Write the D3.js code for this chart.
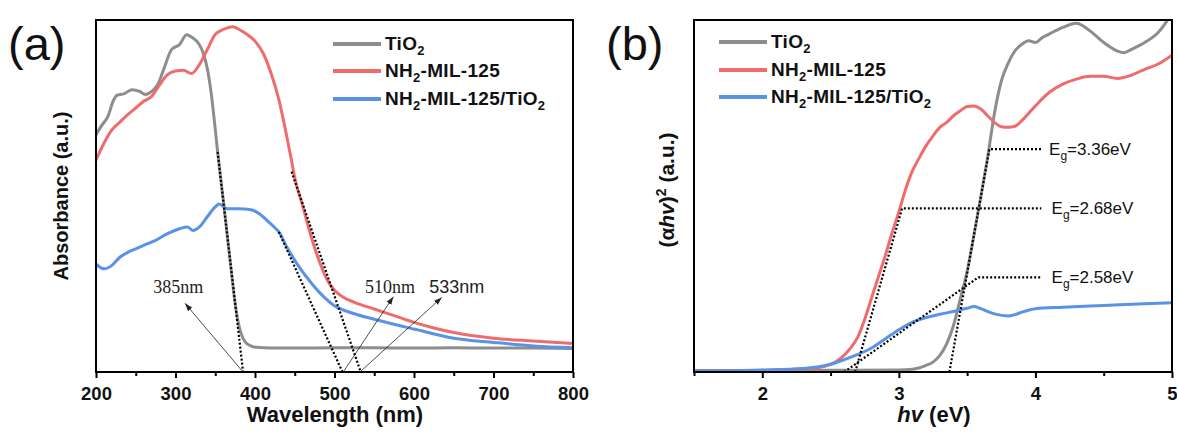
<!DOCTYPE html>
<html><head><meta charset="utf-8">
<script src="https://cdn.jsdelivr.net/npm/d3@7"></script>
<style>body{margin:0;background:#fff} svg{display:block}</style>
</head><body><svg id="c" width="1177" height="433"></svg>
<script>
// ---------- DATA ----------
// Panel (a): UV-vis absorbance (wavelength nm, absorbance a.u.)
const absTiO2 = [[200,0.674],[207,0.70],[215,0.726],[222,0.772],[227,0.787],[235,0.79],[245,0.802],[255,0.797],[262,0.788],[270,0.797],[278,0.818],[285,0.859],[295,0.916],[305,0.93],[314,0.958],[320,0.952],[330,0.93],[335,0.905],[340,0.862],[345,0.79],[350,0.69],[353,0.625],[356,0.566],[360,0.49],[365,0.39],[370,0.29],[375,0.195],[380,0.13],[384,0.1],[388,0.085],[394,0.075],[402,0.07],[420,0.068],[450,0.068],[500,0.069],[550,0.069],[600,0.068],[650,0.069],[700,0.068],[750,0.068],[800,0.067]];
const absMIL = [[200,0.602],[210,0.65],[220,0.688],[230,0.71],[240,0.731],[250,0.75],[260,0.769],[270,0.783],[280,0.816],[290,0.845],[300,0.855],[310,0.857],[320,0.848],[330,0.873],[340,0.916],[350,0.959],[360,0.973],[372,0.981],[380,0.973],[390,0.959],[400,0.94],[410,0.907],[420,0.85],[430,0.774],[440,0.669],[446,0.6],[450,0.552],[460,0.472],[470,0.39],[480,0.32],[490,0.265],[500,0.232],[510,0.214],[525,0.198],[550,0.179],[575,0.16],[600,0.141],[625,0.125],[650,0.112],[700,0.096],[750,0.088],[800,0.081]];
const absComposite = [[200,0.307],[210,0.293],[220,0.303],[230,0.326],[240,0.34],[250,0.35],[260,0.36],[275,0.374],[290,0.393],[305,0.407],[315,0.412],[322,0.402],[330,0.412],[340,0.441],[350,0.469],[355,0.477],[365,0.464],[380,0.464],[395,0.461],[405,0.45],[415,0.431],[425,0.41],[430,0.398],[440,0.355],[455,0.3],[470,0.255],[485,0.217],[500,0.188],[520,0.169],[550,0.15],[600,0.122],[650,0.096],[700,0.084],[750,0.074],[800,0.069]];
const aTicks = [200,300,400,500,600,700,800];
const aMinor = [250,350,450,550,650,750];
// tangent lines (x1,y1) -> intercept
const aTangents = [[353,0.625,385,0],[446,0.569,533,0],[430,0.398,510,0]];
// edge annotations: label, label pos, arrow tail (intercept) and head
const aEdgeLabels = ["385nm","510nm","533nm"];
const aEdgeLabelPos = [[303.5,0.224],[569.8,0.224],[653.7,0.224]];
const aArrowFrom = [[385,0],[511,0],[532,0]];
const aArrowTo = [[312,0.195],[574,0.214],[635,0.212]];

// Panel (b): Tauc plot (hv eV, (αhv)^2 a.u.)
const taucTiO2 = [[1.5,0.004],[2.0,0.004],[2.5,0.005],[3.0,0.006],[3.1,0.008],[3.2,0.019],[3.25,0.028],[3.3,0.047],[3.35,0.08],[3.4,0.132],[3.45,0.208],[3.5,0.286],[3.55,0.39],[3.6,0.497],[3.65,0.61],[3.7,0.735],[3.75,0.826],[3.8,0.877],[3.85,0.912],[3.9,0.931],[3.95,0.941],[4.0,0.936],[4.05,0.95],[4.1,0.96],[4.2,0.979],[4.3,0.991],[4.35,0.983],[4.4,0.969],[4.5,0.936],[4.6,0.912],[4.65,0.907],[4.7,0.916],[4.8,0.936],[4.9,0.965],[4.95,0.99],[5.0,1.02]];
const taucMIL = [[1.5,0.003],[2.0,0.005],[2.2,0.007],[2.4,0.012],[2.5,0.022],[2.55,0.032],[2.6,0.048],[2.65,0.07],[2.7,0.1],[2.75,0.15],[2.8,0.21],[2.85,0.27],[2.9,0.33],[2.95,0.395],[3.0,0.455],[3.05,0.52],[3.1,0.572],[3.15,0.609],[3.2,0.643],[3.25,0.671],[3.3,0.695],[3.35,0.709],[3.4,0.728],[3.45,0.742],[3.5,0.754],[3.55,0.756],[3.6,0.747],[3.65,0.728],[3.7,0.709],[3.75,0.697],[3.8,0.695],[3.85,0.698],[3.9,0.714],[4.0,0.756],[4.1,0.794],[4.2,0.818],[4.3,0.832],[4.4,0.84],[4.5,0.84],[4.6,0.834],[4.7,0.843],[4.8,0.86],[4.9,0.875],[5.0,0.9]];
const taucComposite = [[1.5,0.003],[2.0,0.006],[2.3,0.01],[2.4,0.014],[2.5,0.022],[2.6,0.035],[2.7,0.05],[2.8,0.068],[2.9,0.094],[3.0,0.12],[3.1,0.142],[3.2,0.155],[3.3,0.164],[3.4,0.172],[3.5,0.181],[3.55,0.186],[3.6,0.18],[3.7,0.165],[3.8,0.159],[3.85,0.163],[3.9,0.17],[4.0,0.18],[4.2,0.184],[4.5,0.189],[4.8,0.194],[5.0,0.197]];
const bTicks = [2,3,4,5];
const bMinor = [1.5,2.5,3.5,4.5];
const bTangents = [[3.37,0,3.663,0.633],[2.68,0,3.024,0.465],[2.6,0,3.582,0.269]];
const bGuideEnd = 4.043;
const bGapLabels = ["3.36eV","2.68eV","2.58eV"];
const bGapLabelX = [4.1,4.118,4.118];

const seriesNames = ["TiO_2","NH_2-MIL-125","NH_2-MIL-125/TiO_2"];
const seriesColors = ["#8d8d8d","#f06b6b","#5a93e6"];

// ---------- DRAW ----------
const svg = d3.select("#c");
const defs = svg.append("defs");
defs.append("marker").attr("id","arr").attr("viewBox","0 0 10 10")
  .attr("refX",10).attr("refY",5).attr("markerWidth",8).attr("markerHeight",8)
  .attr("markerUnits","userSpaceOnUse").attr("orient","auto")
  .append("path").attr("d","M0,1.5 L10,5 L0,8.5 z").attr("fill","#222");

const SANS = "'Liberation Sans', Arial, sans-serif";
const SERIF = "'Liberation Serif', 'Times New Roman', serif";

function rich(textSel, str, subSize, shift){
  const parts = str.split(/(_\w)/).filter(p=>p);
  let pending = 0;
  parts.forEach(p=>{
    if(p[0]==="_"){
      textSel.append("tspan").attr("font-size",subSize).attr("dy",shift+pending).text(p[1]);
      pending = -shift;
    } else {
      const ts = textSel.append("tspan").text(p);
      if(pending) ts.attr("dy",pending);
      pending = 0;
    }
  });
}

function panel(cfg){
  const {x,y,series,ticks,minor,id} = cfg;
  const g = svg.append("g");
  const [x0,x1] = x.range(), [y0,y1] = y.range();
  defs.append("clipPath").attr("id",id).append("rect")
    .attr("x",x0).attr("y",y1).attr("width",x1-x0).attr("height",y0-y1);
  const line = d3.line().x(d=>x(d[0])).y(d=>y(d[1])).curve(d3.curveMonotoneX);
  const cg = g.append("g").attr("clip-path",`url(#${id})`);
  series.forEach((s,i)=>{
    cg.append("path").datum(s).attr("d",line).attr("fill","none")
      .attr("stroke",seriesColors[i]).attr("stroke-width",3).attr("stroke-linejoin","round");
  });
  // axes
  const ax = g.append("g").attr("transform",`translate(0,${y0})`)
    .call(d3.axisBottom(x).tickValues(ticks).tickSize(6).tickPadding(9).tickFormat(d3.format("d")));
  ax.select(".domain").remove();
  ax.selectAll("line").attr("stroke","#000").attr("stroke-width",2);
  ax.selectAll("text").attr("font-family",SANS).attr("font-weight","bold").attr("font-size",18.5).attr("fill","#111");
  const mx = g.append("g").attr("transform",`translate(0,${y0})`)
    .call(d3.axisBottom(x).tickValues(minor).tickSize(4).tickFormat(""));
  mx.select(".domain").remove();
  mx.selectAll("line").attr("stroke","#000").attr("stroke-width",2);
  // legend
  const lg = g.append("g");
  seriesNames.forEach((n,i)=>{
    const ly = cfg.legY[i];
    lg.append("line").attr("x1",cfg.legX).attr("x2",cfg.legX+48).attr("y1",ly).attr("y2",ly)
      .attr("stroke",seriesColors[i]).attr("stroke-width",4);
    const t = lg.append("text").attr("x",cfg.legX+52).attr("y",ly+6)
      .attr("font-family",SANS).attr("font-weight","bold").attr("font-size",19).attr("letter-spacing",0.3).attr("fill","#111");
    rich(t,n,13,5);
  });
  g.frame = ()=> g.append("rect").attr("x",x0).attr("y",y1).attr("width",x1-x0).attr("height",y0-y1)
    .attr("fill","none").attr("stroke","#000").attr("stroke-width",2);
  return g;
}

// Panel A
const xA = d3.scaleLinear().domain([200,800]).range([96,573]);
const yA = d3.scaleLinear().domain([0,1]).range([372,20]);
const gA = panel({x:xA,y:yA,series:[absTiO2,absMIL,absComposite],ticks:aTicks,minor:aMinor,id:"clipA",legX:333,legY:[44,71,99]});
aTangents.forEach(t=>{
  gA.append("line").attr("x1",xA(t[0])).attr("y1",yA(t[1])).attr("x2",xA(t[2])).attr("y2",yA(t[3]))
    .attr("stroke","#000").attr("stroke-width",2.2).attr("stroke-dasharray","2,2");
});
aArrowFrom.forEach((f,i)=>{
  gA.append("line").attr("x1",xA(f[0])).attr("y1",yA(f[1])).attr("x2",xA(aArrowTo[i][0])).attr("y2",yA(aArrowTo[i][1]))
    .attr("stroke","#222").attr("stroke-width",0.8).attr("marker-end","url(#arr)");
});
aEdgeLabels.forEach((l,i)=>{
  gA.append("text").attr("x",xA(aEdgeLabelPos[i][0])).attr("y",yA(aEdgeLabelPos[i][1]))
    .attr("text-anchor","middle").attr("font-family", i===2?SANS:SERIF).attr("font-size",18).attr("fill","#222").text(l);
});
gA.frame();
gA.append("text").attr("x",335).attr("y",422).attr("text-anchor","middle")
  .attr("font-family",SANS).attr("font-weight","bold").attr("font-size",22).attr("fill","#111").text("Wavelength (nm)");
gA.append("text").attr("transform","translate(61,196) rotate(-90)").attr("dy","0.35em").attr("text-anchor","middle")
  .attr("font-family",SANS).attr("font-weight","bold").attr("font-size",20).attr("fill","#111").text("Absorbance (a.u.)");
svg.append("text").attr("x",8).attr("y",60).attr("font-family",SANS).attr("font-size",47).attr("fill","#111").text("(a)");

// Panel B
const xB = d3.scaleLinear().domain([1.5,5]).range([694,1172]);
const yB = d3.scaleLinear().domain([0,1]).range([372,20]);
const gB = panel({x:xB,y:yB,series:[taucTiO2,taucMIL,taucComposite],ticks:bTicks,minor:bMinor,id:"clipB",legX:719,legY:[42,70,97]});
bTangents.forEach((t,i)=>{
  gB.append("path").attr("d",`M${xB(t[0])},${yB(t[1])}L${xB(t[2])},${yB(t[3])}L${xB(bGuideEnd)},${yB(t[3])}`)
    .attr("fill","none").attr("stroke","#000").attr("stroke-width",2.2).attr("stroke-dasharray","2,2");
  const tx = gB.append("text").attr("x",xB(bGapLabelX[i])).attr("y",yB(t[3])+6)
    .attr("font-family",SANS).attr("font-size",17).attr("fill","#111");
  rich(tx,"E_g="+bGapLabels[i],12,5);
});
gB.frame();
const xt = gB.append("text").attr("x",934).attr("y",422).attr("text-anchor","middle")
  .attr("font-family",SANS).attr("font-weight","bold").attr("font-size",22).attr("fill","#111");
xt.append("tspan").attr("font-style","italic").text("hv");
xt.append("tspan").text(" (eV)");
const yt = gB.append("text").attr("transform","translate(667,190) rotate(-90)").attr("dy","0.35em").attr("text-anchor","middle")
  .attr("font-family",SANS).attr("font-weight","bold").attr("font-size",21).attr("fill","#111");
yt.append("tspan").text("(\u03B1");
yt.append("tspan").attr("font-style","italic").text("hv");
yt.append("tspan").text(")");
yt.append("tspan").attr("font-size",14).attr("dy",-8).text("2");
yt.append("tspan").attr("dy",8).text(" (a.u.)");
svg.append("text").attr("x",606).attr("y",60).attr("font-family",SANS).attr("font-size",47).attr("fill","#111").text("(b)");
</script></body></html>
